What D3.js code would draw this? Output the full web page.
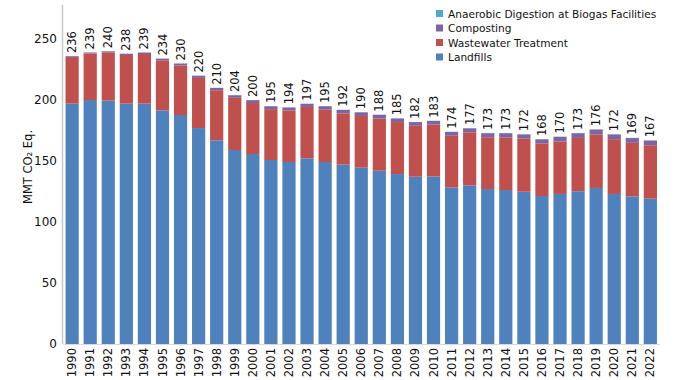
<!DOCTYPE html>
<html>
<head>
<meta charset="utf-8">
<script src="https://cdn.jsdelivr.net/npm/d3@7/dist/d3.min.js"></script>
<style>
  body { margin: 0; background: #fff; }
  svg text { font-family: "DejaVu Sans", Verdana, sans-serif; fill: #111; }
</style>
</head>
<body>
<svg id="chart" width="674" height="380"></svg>
<script>
// waste sector emissions, MMT CO2 Eq.
var years = ["1990","1991","1992","1993","1994","1995","1996","1997","1998","1999","2000",
  "2001","2002","2003","2004","2005","2006","2007","2008","2009","2010","2011","2012",
  "2013","2014","2015","2016","2017","2018","2019","2020","2021","2022"];
var landfills = [197, 200, 199.5, 197, 197, 191.5, 187.7, 177, 167, 159, 155.7,
  150.8, 149.2, 152.2, 149.2, 147, 144.5, 142, 139.3, 137.1, 137.4, 128.4, 130,
  127, 126.2, 124.8, 121.3, 123, 125.2, 127.9, 123, 121, 119.1];
var wastewater = [38.2, 38.1, 39.5, 39.9, 40.7, 41.0, 40.6, 41.1, 41.0, 42.8, 41.8,
  41.7, 42.2, 42.1, 42.9, 42.0, 42.4, 42.8, 42.6, 41.8, 42.4, 42.3, 43.5,
  42.5, 43.2, 43.5, 42.9, 43.0, 43.7, 43.9, 44.9, 43.9, 43.8];
var composting = [0.7, 0.8, 0.9, 1.0, 1.2, 1.4, 1.6, 1.8, 1.9, 2.1, 2.4,
  2.4, 2.5, 2.6, 2.8, 2.9, 3.0, 3.1, 3.0, 3.0, 3.0, 3.1, 3.3,
  3.3, 3.4, 3.5, 3.6, 3.8, 3.9, 4.0, 3.9, 3.9, 3.9];
var digestion = [0.1, 0.1, 0.1, 0.1, 0.1, 0.1, 0.1, 0.1, 0.1, 0.1, 0.1,
  0.1, 0.1, 0.1, 0.1, 0.1, 0.1, 0.1, 0.1, 0.1, 0.2, 0.2, 0.2,
  0.2, 0.2, 0.2, 0.2, 0.2, 0.2, 0.2, 0.2, 0.2, 0.2];
var totals = [236, 239, 240, 238, 239, 234, 230, 220, 210, 204, 200,
  195, 194, 197, 195, 192, 190, 188, 185, 182, 183, 174, 177,
  173, 173, 172, 168, 170, 173, 176, 172, 169, 167];
var yTicks = [0, 50, 100, 150, 200, 250];

var series = [
  {key: "landfills", name: "Landfills", color: "#4F81BD", values: landfills},
  {key: "wastewater", name: "Wastewater Treatment", color: "#C0504D", values: wastewater},
  {key: "composting", name: "Composting", color: "#8064A2", values: composting},
  {key: "digestion", name: "Anaerobic Digestion at Biogas Facilities", color: "#4BACC6", values: digestion}
];

var table = years.map(function(y, i) {
  var row = {year: y};
  series.forEach(function(s) { row[s.key] = s.values[i]; });
  return row;
});

var svg = d3.select("#chart");
var margin = {left: 63, right: 15, top: 5, bottom: 36};
var baseY = 344;

var x = d3.scaleBand().domain(years).range([margin.left, 659.5]).paddingInner(0.27).paddingOuter(0.14);
var y = d3.scaleLinear().domain([0, 250]).range([baseY, 39]);

var stack = d3.stack().keys(series.map(function(s) { return s.key; }));
var layers = stack(table);

svg.append("g").selectAll("g")
  .data(layers)
  .enter().append("g")
    .attr("fill", function(d, i) { return series[i].color; })
  .selectAll("rect")
  .data(function(d) { return d; })
  .enter().append("rect")
    .attr("x", function(d) { return x(d.data.year); })
    .attr("y", function(d) { return y(d[1]); })
    .attr("width", x.bandwidth())
    .attr("height", function(d) { return y(d[0]) - y(d[1]); });

// y axis
var yAxis = svg.append("g")
  .attr("transform", "translate(" + margin.left + ",0)")
  .call(d3.axisLeft(y).tickValues(yTicks).tickSize(0).tickPadding(6));
yAxis.select(".domain").remove();
yAxis.selectAll("text").style("font-size", "12px").attr("fill", "#111");
svg.append("line")
  .attr("x1", margin.left - 0.5).attr("x2", margin.left - 0.5)
  .attr("y1", margin.top).attr("y2", baseY)
  .attr("stroke", "#c8c8c8").attr("stroke-width", 1.5);
svg.append("line")
  .attr("x1", margin.left).attr("x2", 660)
  .attr("y1", baseY + 0.5).attr("y2", baseY + 0.5)
  .attr("stroke", "#d9d9d9");

// x axis
var xAxis = svg.append("g")
  .attr("transform", "translate(0," + baseY + ")")
  .call(d3.axisBottom(x).tickSize(0));
xAxis.select(".domain").remove();
xAxis.selectAll("text")
  .style("font-size", "11.5px")
  .attr("fill", "#111")
  .attr("text-anchor", "end")
  .attr("transform", "rotate(-90)")
  .attr("x", -4)
  .attr("y", 0)
  .attr("dy", "0.35em");

// total labels
svg.append("g").selectAll("text")
  .data(table)
  .enter().append("text")
    .attr("transform", function(d, i) {
      return "translate(" + (x(d.year) + x.bandwidth() / 2) + "," + (y(totals[i]) - 3) + ") rotate(-90)";
    })
    .attr("dy", "0.35em")
    .style("font-size", "11.5px")
    .text(function(d, i) { return totals[i]; });

// y title
svg.append("text")
  .attr("transform", "translate(32,167) rotate(-90)")
  .attr("text-anchor", "middle")
  .style("font-size", "11.5px")
  .text("MMT CO\u2082 Eq.");

// legend
var legendOrder = series.slice().reverse();
var legend = svg.append("g").attr("transform", "translate(436,14)");
var item = legend.selectAll("g")
  .data(legendOrder)
  .enter().append("g")
    .attr("transform", function(d, i) { return "translate(0," + (i * 14.5) + ")"; });
item.append("rect")
  .attr("x", 0).attr("y", -4).attr("width", 7).attr("height", 7)
  .attr("fill", function(d) { return d.color; });
item.append("text")
  .attr("x", 12).attr("dy", "0.35em")
  .style("font-size", "10.6px")
  .text(function(d) { return d.name; });
</script>
</body>
</html>
